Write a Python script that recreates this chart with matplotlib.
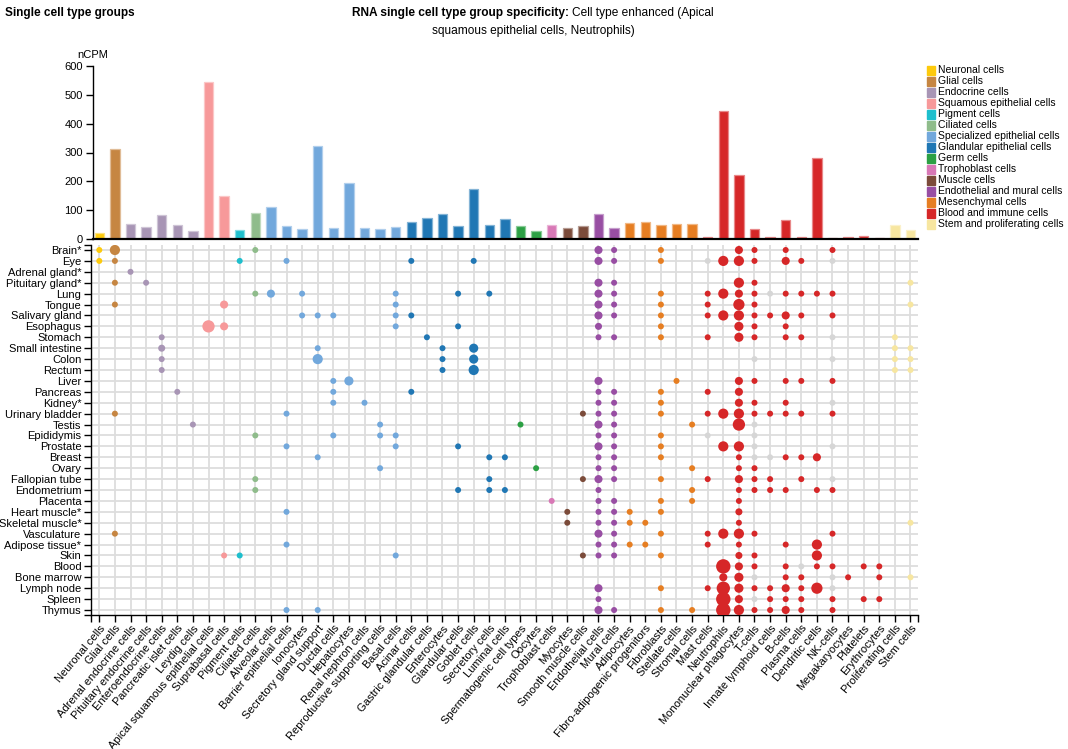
import matplotlib
matplotlib.use("Agg")
import matplotlib.pyplot as plt
from matplotlib.colors import to_rgb

plt.rcParams['font.family'] = ['Liberation Sans', 'DejaVu Sans']

# ---- data ----
cell_types = [
    "Neuronal cells", "Glial cells", "Adrenal endocrine cells", "Pituitary endocrine cells",
    "Enteroendocrine cells", "Pancreatic islet cells", "Leydig cells",
    "Apical squamous epithelial cells", "Suprabasal cells", "Pigment cells", "Ciliated cells",
    "Alveolar cells", "Barrier epithelial cells", "Ionocytes", "Secretory gland support",
    "Ductal cells", "Hepatocytes", "Renal nephron cells", "Reproductive supporting cells",
    "Basal cells", "Acinar cells", "Gastric glandular cells", "Enterocytes", "Glandular cells",
    "Goblet cells", "Secretory cells", "Luminal cells", "Spermatogenic cell types", "Oocytes",
    "Trophoblast cells", "Myocytes", "Smooth muscle cells", "Endothelial cells", "Mural cells",
    "Adipocytes", "Fibro-adipogenic progenitors", "Fibroblasts", "Stellate cells",
    "Stromal cells", "Mast cells", "Neutrophils", "Mononuclear phagocytes", "T-cells",
    "Innate lymphoid cells", "B-cells", "Plasma cells", "Dendritic cells", "NK-cells",
    "Megakaryocytes", "Platelets", "Erythrocytes", "Proliferating cells", "Stem cells",
]

ncpm = [21, 311, 52, 42, 82, 49, 28, 543, 149, 31, 90, 112, 44, 36, 322, 39, 194, 38, 35,
        43, 59, 72, 87, 45, 172, 49, 69, 45, 28, 49, 37, 44, 87, 39, 55, 58, 47, 52, 52,
        6, 444, 222, 35, 7, 65, 6, 280, 2, 6, 10, 3.5, 49, 31]

group_names = ["Neuronal cells", "Glial cells", "Endocrine cells", "Squamous epithelial cells",
               "Pigment cells", "Ciliated cells", "Specialized epithelial cells",
               "Glandular epithelial cells", "Germ cells", "Trophoblast cells", "Muscle cells",
               "Endothelial and mural cells", "Mesenchymal cells", "Blood and immune cells",
               "Stem and proliferating cells"]
group_colors = ["#fdca0c", "#c68642", "#a895b5", "#f7999a", "#1ebfcd", "#8fbc8b", "#72a8dc",
                "#2077b4", "#2ca044", "#d878b6", "#7b4b3a", "#984ea3", "#e67e22", "#d62728",
                "#f7e6a0"]
group_counts = [1, 1, 5, 2, 1, 1, 9, 7, 2, 1, 2, 2, 5, 12, 2]

tissues = ["Brain*", "Eye", "Adrenal gland*", "Pituitary gland*", "Lung", "Tongue",
           "Salivary gland", "Esophagus", "Stomach", "Small intestine", "Colon", "Rectum",
           "Liver", "Pancreas", "Kidney*", "Urinary bladder", "Testis", "Epididymis",
           "Prostate", "Breast", "Ovary", "Fallopian tube", "Endometrium", "Placenta",
           "Heart muscle*", "Skeletal muscle*", "Vasculature", "Adipose tissue*", "Skin",
           "Blood", "Bone marrow", "Lymph node", "Spleen", "Thymus"]

# enhanced cell types per tissue (1-based column numbers)
tissue_cols = [
    [1, 2, 11, 33, 34, 37, 42, 43, 45, 48],
    [1, 2, 10, 13, 21, 25, 33, 34, 37, 41, 42, 43, 45, 46],
    [3],
    [2, 4, 33, 34, 42, 43, 53],
    [11, 12, 14, 20, 24, 26, 33, 34, 37, 40, 41, 42, 43, 45, 46, 47, 48],
    [2, 9, 20, 33, 34, 37, 40, 42, 43, 53],
    [14, 15, 16, 20, 21, 33, 34, 37, 40, 41, 42, 43, 44, 45, 46, 48],
    [8, 9, 20, 24, 33, 37, 42, 43, 45],
    [5, 22, 33, 34, 37, 40, 42, 43, 45, 46, 52],
    [5, 15, 23, 25, 52, 53],
    [5, 15, 23, 25, 52, 53],
    [5, 23, 25, 52, 53],
    [16, 17, 33, 38, 42, 43, 45, 46, 48],
    [6, 16, 21, 33, 34, 37, 40, 42],
    [16, 18, 33, 34, 37, 42, 43, 45],
    [2, 13, 32, 33, 34, 37, 40, 41, 42, 43, 44, 45, 46, 48],
    [7, 19, 28, 33, 34, 39, 42],
    [11, 16, 19, 20, 33, 34, 37],
    [13, 20, 24, 33, 34, 37, 41, 42],
    [15, 26, 27, 33, 34, 37, 42, 45, 46, 47],
    [19, 29, 33, 34, 39, 42, 43],
    [11, 26, 32, 33, 34, 37, 40, 42, 43, 44, 46],
    [11, 24, 26, 27, 33, 39, 42, 43, 44, 45, 47, 48],
    [30, 33, 34, 37, 39, 42],
    [13, 31, 33, 34, 35, 37, 42],
    [31, 33, 34, 35, 36, 42, 53],
    [2, 33, 34, 37, 40, 41, 42, 43, 48],
    [13, 33, 34, 35, 36, 40, 42, 45, 47],
    [9, 10, 20, 32, 33, 34, 37, 42, 43, 47],
    [41, 42, 43, 45, 47, 48, 50, 51],
    [41, 42, 45, 46, 49, 51, 53],
    [33, 37, 40, 41, 42, 43, 44, 45, 46, 47],
    [33, 41, 42, 44, 45, 46, 48, 50, 51],
    [13, 15, 33, 34, 37, 39, 41, 42, 43, 44, 45, 46, 48],
]
# dot size level for the bigger dots (others are level 1)
tissue_big = [
    {2: 3, 33: 2, 42: 2},
    {33: 2, 41: 3, 42: 3, 45: 2},
    {},
    {33: 2, 42: 3},
    {12: 2, 33: 2, 41: 3, 42: 2},
    {9: 2, 33: 2, 42: 3.5},
    {33: 2, 41: 3, 42: 3, 45: 2},
    {8: 4, 9: 2, 33: 1.5, 42: 2.5},
    {42: 2.5},
    {5: 1.5, 25: 2.5},
    {15: 3, 25: 2.5},
    {25: 3},
    {17: 2.5, 33: 2, 42: 2},
    {42: 2},
    {42: 2},
    {41: 3, 42: 3},
    {33: 2, 42: 4},
    {},
    {33: 2, 41: 3, 42: 3},
    {47: 2},
    {},
    {33: 2, 42: 2},
    {},
    {},
    {42: 1.5},
    {},
    {33: 2, 41: 3, 42: 3},
    {47: 3},
    {42: 1.5, 47: 3},
    {41: 5, 42: 2},
    {41: 2, 42: 2.5},
    {33: 2, 41: 4.5, 42: 2.5, 45: 2, 47: 3.5},
    {41: 5, 42: 2},
    {33: 2, 41: 5, 42: 3, 45: 2},
]
# grey (not enhanced) dots
tissue_grey = [
    [], [40, 48], [], [], [44], [], [], [], [48], [], [43, 48], [], [], [], [48], [],
    [43], [40, 43], [43, 48], [43, 44], [], [48], [], [], [], [], [], [], [],
    [46], [43, 48], [48], [43], [],
]

# ---- layout ----
W, H = 1068, 749


def rect(l, t, r, b):
    return [l / W, 1 - b / H, (r - l) / W, (b - t) / H]


col0, dcol = 99.3, 15.6
row0, drow = 250, 10.91

cell_color = []
for g, n in enumerate(group_counts):
    cell_color += [group_colors[g]] * n


def lighter(c, f=0.45):
    r, g, b = to_rgb(c)
    return (r + (1 - r) * f, g + (1 - g) * f, b + (1 - b) * f)


fig = plt.figure(figsize=(W / 100, H / 100), dpi=100)

# bar chart
axb = fig.add_axes(rect(92.7, 66, 917.7, 239))
xs = list(range(len(cell_types)))
axb.bar(xs, ncpm, width=0.6, color=cell_color,
        edgecolor=[lighter(c) for c in cell_color], linewidth=0.9)
axb.set_xlim(-(col0 - 92.7) / dcol, 52 + (917.7 - (col0 + 52 * dcol)) / dcol)
axb.set_ylim(0, 600)
axb.set_yticks(range(0, 601, 100))
axb.set_xticks([])
axb.tick_params(axis='y', labelsize=8, length=5, width=1, pad=2)
for s in ['top', 'right']:
    axb.spines[s].set_visible(False)
axb.spines['left'].set_linewidth(1)
axb.spines['bottom'].set_linewidth(1.6)
fig.text(92.7 / W, 1 - 55 / H, "nCPM", fontsize=8, ha='center', va='center')

# dot matrix
axm = fig.add_axes(rect(91, 245, 917.7, 615))
xl = (-(col0 - 91) / dcol, 52 + (917.7 - (col0 + 52 * dcol)) / dcol)
yl = (33 + (615 - (row0 + 33 * drow)) / drow, -(row0 - 245) / drow)
for i in range(len(cell_types)):
    axm.axvline(i, color='#dddddd', lw=1.3, zorder=0)
for j in range(len(tissues)):
    axm.axhline(j, color='#dddddd', lw=1.3, zorder=0)

px, py, ps, pc = [], [], [], []
for j in range(len(tissues)):
    for c in tissue_grey[j]:
        px.append(c - 1); py.append(j); ps.append(1); pc.append('#d6d6d6')
    for c in tissue_cols[j]:
        px.append(c - 1); py.append(j); ps.append(tissue_big[j].get(c, 1))
        pc.append(cell_color[c - 1])
sizes = [((6 + (s - 1) * 2.1) * 0.72) ** 2 for s in ps]
axm.scatter(px, py, s=sizes, c=pc, linewidths=0, zorder=3)

axm.set_xlim(*xl)
axm.set_ylim(*yl)
axm.set_xticks(xs)
axm.set_xticklabels(cell_types, rotation=50, ha='right', va='top',
                    rotation_mode='anchor', fontsize=8)
axm.set_yticks(range(len(tissues)))
axm.set_yticklabels(tissues, fontsize=8)
axm.set_xticks(list(xl), minor=True)
axm.set_yticks(list(yl), minor=True)
axm.tick_params(axis='both', which='both', length=5, width=1, pad=2)
axm.tick_params(axis='x', which='major', pad=1)
for s in ['top', 'right']:
    axm.spines[s].set_visible(False)
axm.spines['left'].set_linewidth(1)
axm.spines['bottom'].set_linewidth(1)

# legend
for g, name in enumerate(group_names):
    y = 70.3 + g * 11
    fig.patches.append(plt.Rectangle((926.7 / W, 1 - (y + 4.3) / H), 8.4 / W, 8.6 / H,
                                     color=group_colors[g], transform=fig.transFigure))
    fig.text(938 / W, 1 - y / H, name, fontsize=7.5, va='center', ha='left')

# titles
fig.text(5 / W, 1 - 13 / H, "Single cell type groups", fontsize=8.5, fontweight='bold',
         va='center')
t1 = fig.text(352 / W, 1 - 13 / H, "RNA single cell type group specificity:", fontsize=8.6,
              fontweight='bold', va='center')
fig.canvas.draw()
bb = t1.get_window_extent(fig.canvas.get_renderer())
fig.text(bb.x1 / W + 3 / W, 1 - 13 / H, "Cell type enhanced (Apical", fontsize=8.6,
         va='center')
fig.text(533 / W, 1 - 31 / H, "squamous epithelial cells, Neutrophils)", fontsize=8.6,
         va='center', ha='center')

fig.savefig("out.png", dpi=100)
